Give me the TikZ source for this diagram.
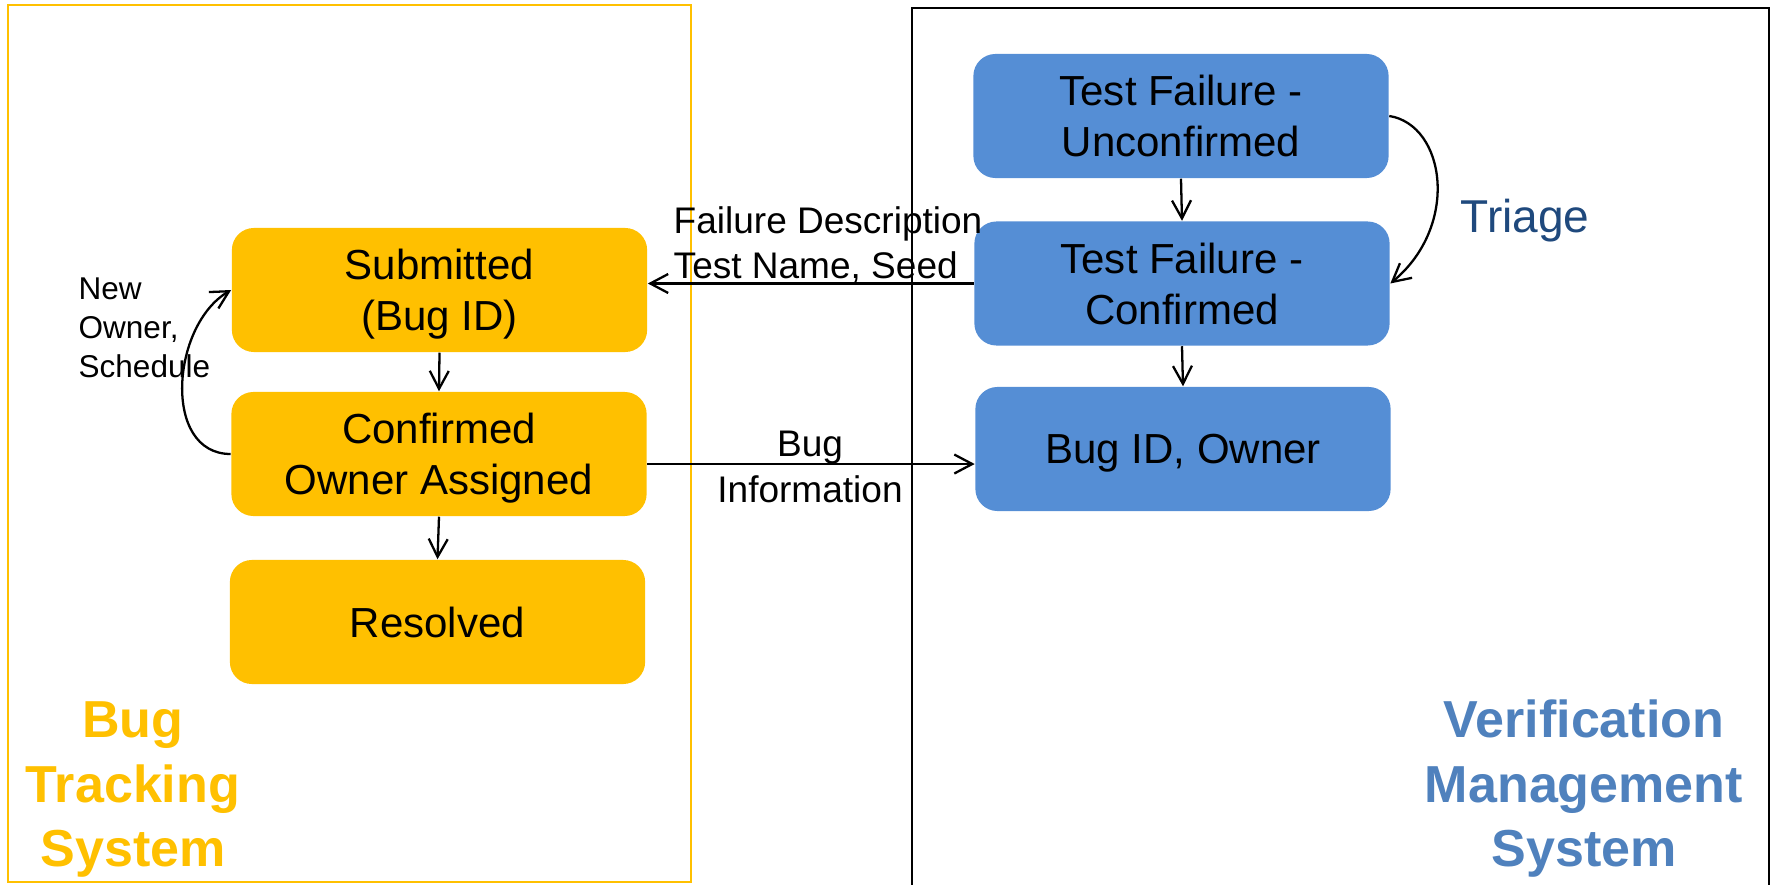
\documentclass[tikz,border=0pt]{standalone}
\usepackage{fontspec}
\setmainfont{Liberation Sans}
\usetikzlibrary{arrows.meta}
\definecolor{ybox}{HTML}{FFC000}
\definecolor{bbox}{HTML}{558ED5}
\definecolor{vtitle}{HTML}{4F81BD}
\definecolor{tri}{HTML}{1F497D}

\begin{document}
\begin{tikzpicture}[x=0.01cm,y=-0.01cm,
  stbox/.style={rounded corners=0.22cm, minimum width=4.15cm, minimum height=1.24cm,
    inner sep=0pt, align=center, text depth=0pt, font=\fontsize{11.95}{14.5}\selectfont},
  ystate/.style={stbox, fill=ybox},
  bstate/.style={stbox, fill=bbox},
  arr/.style={line width=0.65pt, -{Straight Barb[length=5.1pt,width=5.4pt]}},
  lbl/.style={inner sep=0pt, font=\fontsize{10.53}{12.8}\selectfont},
  small/.style={inner sep=0pt, align=left, font=\fontsize{8.96}{10.95}\selectfont},
  title/.style={inner sep=0pt, align=center, font=\fontsize{14.8}{18.2}\selectfont\bfseries}
]
\useasboundingbox (0,0) rectangle (1775,885);

% system frames
\draw[ybox, line width=0.5pt] (8,5) rectangle (691,882);
\draw[black, line width=0.55pt] (912,895) -- (912,8) -- (1769,8) -- (1769,895);

% bug tracking states
\node[ystate] (sub) at (439.5,290) {Submitted\\(Bug ID)};
\node[ystate] (coa) at (439,454) {Confirmed\\Owner Assigned};
\node[ystate] (res) at (437.5,622) {Resolved};

% verification management states
\node[bstate] (tfu) at (1181,116) {Test Failure -\\Unconfirmed};
\node[bstate] (tfc) at (1182,283.5) {Test Failure -\\Confirmed};
\node[bstate] (bid) at (1183,449) {Bug ID, Owner};

% transitions
\draw[arr] (sub.south) -- (coa.north);
\draw[arr] (coa.south) -- (res.north);
\draw[arr] (tfu.south) -- (tfc.north);
\draw[arr] (tfc.south) -- (bid.north);
\draw[arr] (tfc.west) -- (tfc.west -| sub.east);
\draw[arr] ([yshift=-2.85pt]coa.east) -- ([yshift=-2.85pt]coa.east -| bid.west);
\draw[arr] (tfu.east) .. controls +(56,9) and +(70,-58) .. (tfc.east);
\draw[arr] (coa.west) .. controls +(-69,0) and +(-60,35) .. (sub.west);

% transition labels (anchored on the baseline of their last line)
\node[lbl, align=left, anchor=base west] (fd) at (673,279) {Failure Description\\Test Name, Seed};
\node[lbl, align=center, anchor=base] (bi) at (810,502) {Bug\\Information};
\node[small, anchor=base west] (no) at (78,377) {New\\Owner,\\Schedule};
\node[inner sep=0pt, anchor=base west, text=tri, font=\fontsize{13.1}{15}\selectfont] (tr) at (1460,232) {Triage};

% system titles
\node[title, text=ybox, anchor=base] (bts) at (133,866) {Bug\\Tracking\\System};
\node[title, text=vtitle, anchor=base] (vms) at (1584,866) {Verification\\Management\\System};
\end{tikzpicture}
\end{document}
